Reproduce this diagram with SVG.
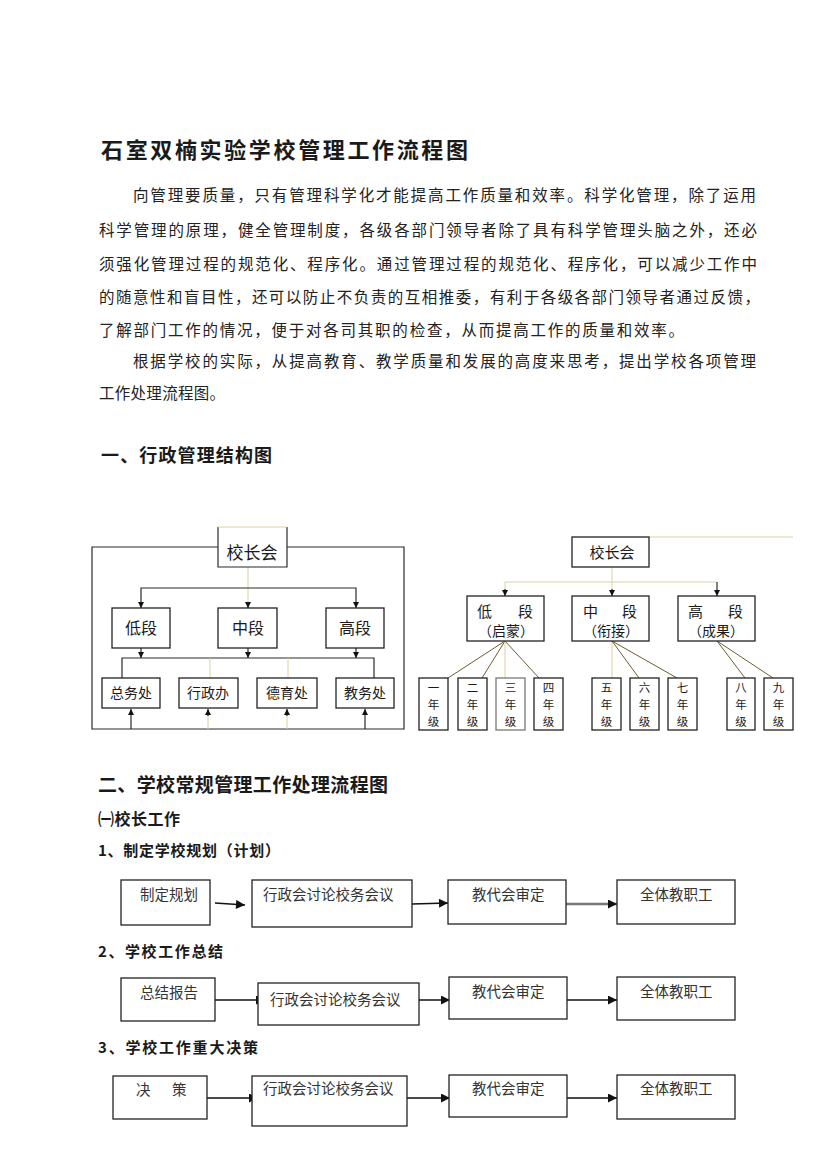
<svg xmlns="http://www.w3.org/2000/svg" width="826" height="1169" viewBox="0 0 826 1169">
<style>
text{font-family:"Noto Sans CJK SC","Noto Sans",sans-serif;fill:#1a1a1a}
.title{font-size:22px;font-weight:bold}
.h{font-size:18px;font-weight:bold}
.p{font-size:15.5px;fill:#222}
.sub{font-size:15px;font-weight:bold}
.lbl{font-size:16px;text-anchor:middle}
.sl{font-size:14px;text-anchor:middle}
.gr{font-size:11.5px;text-anchor:middle}
.fl{font-size:14.5px;fill:#333}
.box{fill:#fff;stroke:#222;stroke-width:1.3}
.ln{fill:none;stroke:#2a2a2a;stroke-width:1.2}
.fa{fill:none;stroke:#d8d2a0;stroke-width:1}
.dg{fill:none;stroke:#6e5e30;stroke-width:1}
.ar{fill:none;stroke:#111;stroke-width:1.4}
</style>
<defs>
<marker id="sa" viewBox="0 0 10 10" refX="10" refY="5" markerWidth="6" markerHeight="6" markerUnits="userSpaceOnUse" orient="auto-start-reverse"><path d="M0,0 L10,5 L0,10 z" fill="#111"/></marker>
<marker id="ba" viewBox="0 0 10 10" refX="10" refY="5" markerWidth="10" markerHeight="9" markerUnits="userSpaceOnUse" orient="auto"><path d="M0,0 L10,5 L0,10 z" fill="#111"/></marker>
</defs>
<rect width="826" height="1169" fill="#fff"/>

<g id="title"><text class="title" x="101" y="158" textLength="367" lengthAdjust="spacing">石室双楠实验学校管理工作流程图</text></g>

<g id="intro">
<text class="p" x="133" y="201" textLength="623" lengthAdjust="spacing">向管理要质量，只有管理科学化才能提高工作质量和效率。科学化管理，除了运用</text>
<text class="p" x="99" y="236" textLength="658" lengthAdjust="spacing">科学管理的原理，健全管理制度，各级各部门领导者除了具有科学管理头脑之外，还必</text>
<text class="p" x="99" y="270" textLength="658" lengthAdjust="spacing">须强化管理过程的规范化、程序化。通过管理过程的规范化、程序化，可以减少工作中</text>
<text class="p" x="99" y="303" textLength="661" lengthAdjust="spacing">的随意性和盲目性，还可以防止不负责的互相推委，有利于各级各部门领导者通过反馈，</text>
<text class="p" x="99" y="336" textLength="585" lengthAdjust="spacing">了解部门工作的情况，便于对各司其职的检查，从而提高工作的质量和效率。</text>
<text class="p" x="133" y="367" textLength="623" lengthAdjust="spacing">根据学校的实际，从提高教育、教学质量和发展的高度来思考，提出学校各项管理</text>
<text class="p" x="99" y="399" textLength="126" lengthAdjust="spacing">工作处理流程图。</text>
</g>

<g id="heading1"><text class="h" x="101" y="462" textLength="171" lengthAdjust="spacing">一、行政管理结构图</text></g>

<!-- Left org chart -->
<g id="left-connectors">
<path class="ln" d="M218,547 H92 V729 H404 V547 H287"/>
<path class="fa" d="M248,567 V603"/>
<path class="ln" d="M141,603 V588 H356 V603"/>
<path class="ln" d="M141,603 V608" marker-end="url(#sa)"/>
<path class="fa" d="M248,603 V608"/>
<path class="ln" d="M248,602 V608" marker-end="url(#sa)"/>
<path class="ln" d="M356,603 V608" marker-end="url(#sa)"/>
<path class="ln" d="M141,641 V658" marker-start="url(#sa)" marker-end="url(#sa)"/>
<path class="ln" d="M248,641 V658" marker-start="url(#sa)" marker-end="url(#sa)"/>
<path class="ln" d="M356,641 V658" marker-start="url(#sa)" marker-end="url(#sa)"/>
<path class="ln" d="M122,678 V658 H374 V678"/>
<path class="fa" d="M210,658 V678 M288,658 V678"/>
<path class="ln" d="M131,729 V709" marker-end="url(#sa)"/>
<path class="fa" d="M208,729 V712 M287,729 V712"/>
<path class="ln" d="M208,716 V709" marker-end="url(#sa)"/>
<path class="ln" d="M287,716 V709" marker-end="url(#sa)"/>
<path class="ln" d="M365,729 V709" marker-end="url(#sa)"/>
</g>
<g id="L-xiaozhang"><path class="ln" d="M218,527 V567 H287 V527"/><path class="fa" d="M218,527 H287"/><text class="lbl" x="252" y="559" style="font-size:17px">校长会</text></g>
<g id="L-di"><rect class="box" x="112" y="608" width="58" height="40"/><text class="lbl" x="141" y="634">低段</text></g>
<g id="L-zhong"><rect class="box" x="218" y="608" width="59" height="40"/><text class="lbl" x="248" y="634">中段</text></g>
<g id="L-gao"><rect class="box" x="326" y="608" width="58" height="40"/><text class="lbl" x="355" y="634">高段</text></g>
<g id="L-zongwu"><rect class="box" x="102" y="678" width="58" height="30"/><text class="sl" x="131" y="698">总务处</text></g>
<g id="L-xingzheng"><rect class="box" x="179" y="678" width="59" height="30"/><text class="sl" x="208" y="698">行政办</text></g>
<g id="L-deyu"><rect class="box" x="257" y="678" width="60" height="30"/><text class="sl" x="287" y="698">德育处</text></g>
<g id="L-jiaowu"><rect class="box" x="336" y="678" width="58" height="30"/><text class="sl" x="365" y="698">教务处</text></g>

<!-- Right org chart -->
<g id="right-connectors">
<path class="fa" d="M649,537 H793"/>
<path class="fa" d="M612,567 V582 M505,582 H717 M505,582 V590 M612,582 V590"/>
<path class="ln" d="M505,589 V596" marker-end="url(#sa)"/>
<path class="ln" d="M612,589 V596" marker-end="url(#sa)"/>
<path class="ln" d="M717,582 V596" marker-end="url(#sa)"/>
<path class="dg" d="M505,641 L448,678 M505,641 L482,678 M505,641 L539,678"/>
<path class="fa" d="M505,641 V678"/>
<path class="fa" d="M612,641 V678"/>
<path class="dg" d="M612,641 L639,678 M612,641 L677,678"/>
<path class="dg" d="M717,641 L745,678 M717,641 L773,678"/>
</g>
<g id="R-xiaozhang"><rect class="box" x="572" y="537" width="77" height="30"/><text class="lbl" x="612" y="558" style="font-size:15px">校长会</text></g>
<g id="R-di"><rect class="box" x="467" y="596" width="77" height="45"/><text class="sl" x="477" y="617" style="text-anchor:start;font-size:15px">低</text><text class="sl" x="518" y="617" style="text-anchor:start;font-size:15px">段</text><text class="sl" x="506" y="636">（启蒙）</text></g>
<g id="R-zhong"><rect class="box" x="572" y="596" width="77" height="45"/><text class="sl" x="583" y="617" style="text-anchor:start;font-size:15px">中</text><text class="sl" x="622" y="617" style="text-anchor:start;font-size:15px">段</text><text class="sl" x="611" y="636">（衔接）</text></g>
<g id="R-gao"><rect class="box" x="678" y="596" width="77" height="45"/><text class="sl" x="688" y="617" style="text-anchor:start;font-size:15px">高</text><text class="sl" x="728" y="617" style="text-anchor:start;font-size:15px">段</text><text class="sl" x="716" y="636">（成果）</text></g>
<g id="R-g1"><rect class="box" x="419" y="678" width="29" height="52"/><text class="gr" x="433.5" y="692">一</text><text class="gr" x="433.5" y="709">年</text><text class="gr" x="433.5" y="726">级</text></g>
<g id="R-g2"><rect class="box" x="458" y="678" width="29" height="52"/><text class="gr" x="472.5" y="692">二</text><text class="gr" x="472.5" y="709">年</text><text class="gr" x="472.5" y="726">级</text></g>
<g id="R-g3"><rect class="box" x="496" y="678" width="29" height="52" style="stroke:#777"/><text class="gr" x="510.5" y="692">三</text><text class="gr" x="510.5" y="709">年</text><text class="gr" x="510.5" y="726">级</text></g>
<g id="R-g4"><rect class="box" x="534" y="678" width="29" height="52"/><text class="gr" x="548.5" y="692">四</text><text class="gr" x="548.5" y="709">年</text><text class="gr" x="548.5" y="726">级</text></g>
<g id="R-g5"><rect class="box" x="592" y="678" width="29" height="52"/><text class="gr" x="606.5" y="692">五</text><text class="gr" x="606.5" y="709">年</text><text class="gr" x="606.5" y="726">级</text></g>
<g id="R-g6"><rect class="box" x="630" y="678" width="29" height="52"/><text class="gr" x="644.5" y="692">六</text><text class="gr" x="644.5" y="709">年</text><text class="gr" x="644.5" y="726">级</text></g>
<g id="R-g7"><rect class="box" x="668" y="678" width="29" height="52"/><text class="gr" x="682.5" y="692">七</text><text class="gr" x="682.5" y="709">年</text><text class="gr" x="682.5" y="726">级</text></g>
<g id="R-g8"><rect class="box" x="727" y="678" width="28" height="52"/><text class="gr" x="741" y="692">八</text><text class="gr" x="741" y="709">年</text><text class="gr" x="741" y="726">级</text></g>
<g id="R-g9"><rect class="box" x="764" y="678" width="29" height="52"/><text class="gr" x="778.5" y="692">九</text><text class="gr" x="778.5" y="709">年</text><text class="gr" x="778.5" y="726">级</text></g>

<g id="heading2">
<text class="h" x="98" y="792" style="font-size:19px" textLength="290" lengthAdjust="spacing">二、学校常规管理工作处理流程图</text>
<text class="h" x="98" y="825" style="font-size:16px" textLength="82" lengthAdjust="spacing">㈠校长工作</text>
<text class="sub" x="98" y="856" textLength="182" lengthAdjust="spacing">1、制定学校规划（计划）</text>
<text class="sub" x="98" y="957" textLength="125" lengthAdjust="spacing">2、学校工作总结</text>
<text class="sub" x="98" y="1053" textLength="160" lengthAdjust="spacing">3、学校工作重大决策</text>
</g>

<g id="flow-connectors">
<path class="ar" d="M215,903 L245,905" marker-end="url(#ba)"/>
<path class="ar" d="M412,904 L448,903" marker-end="url(#ba)"/>
<path class="ar" d="M566,904 H617" style="stroke:#777;stroke-width:2.4" marker-end="url(#ba)"/>
<path class="ar" d="M215,1000 H265" marker-end="url(#ba)"/>
<path class="ar" d="M405,1000 H450" marker-end="url(#ba)"/>
<path class="ar" d="M567,1000 H617" marker-end="url(#ba)"/>
<path class="ar" d="M207,1098 H258" marker-end="url(#ba)"/>
<path class="ar" d="M405,1098 H450" marker-end="url(#ba)"/>
<path class="ar" d="M567,1098 H617" marker-end="url(#ba)"/>
</g>
<g id="F1-a"><rect class="box" x="121" y="880" width="89" height="45"/><text class="fl" x="140" y="900">制定规划</text></g>
<g id="F1-b"><rect class="box" x="252" y="880" width="160" height="47"/><text class="fl" x="263" y="900">行政会讨论校务会议</text></g>
<g id="F1-c"><rect class="box" x="448" y="880" width="118" height="44"/><text class="fl" x="472" y="900">教代会审定</text></g>
<g id="F1-d"><rect class="box" x="617" y="880" width="118" height="44"/><text class="fl" x="640" y="900">全体教职工</text></g>

<g id="F2-a"><rect class="box" x="121" y="978" width="94" height="43"/><text class="fl" x="140" y="998">总结报告</text></g>
<g id="F2-b"><rect class="box" x="258" y="983" width="161" height="42"/><text class="fl" x="270" y="1005">行政会讨论校务会议</text></g>
<g id="F2-c"><rect class="box" x="449" y="977" width="118" height="42"/><text class="fl" x="472" y="997">教代会审定</text></g>
<g id="F2-d"><rect class="box" x="617" y="977" width="118" height="43"/><text class="fl" x="640" y="997">全体教职工</text></g>

<g id="F3-a"><rect class="box" x="113" y="1076" width="94" height="43"/><text class="fl" x="136" y="1095">决</text><text class="fl" x="172" y="1095">策</text></g>
<g id="F3-b"><rect class="box" x="252" y="1076" width="155" height="50"/><text class="fl" x="263" y="1094">行政会讨论校务会议</text></g>
<g id="F3-c"><rect class="box" x="449" y="1075" width="118" height="42"/><text class="fl" x="472" y="1094">教代会审定</text></g>
<g id="F3-d"><rect class="box" x="617" y="1075" width="118" height="44"/><text class="fl" x="640" y="1094">全体教职工</text></g>
</svg>
